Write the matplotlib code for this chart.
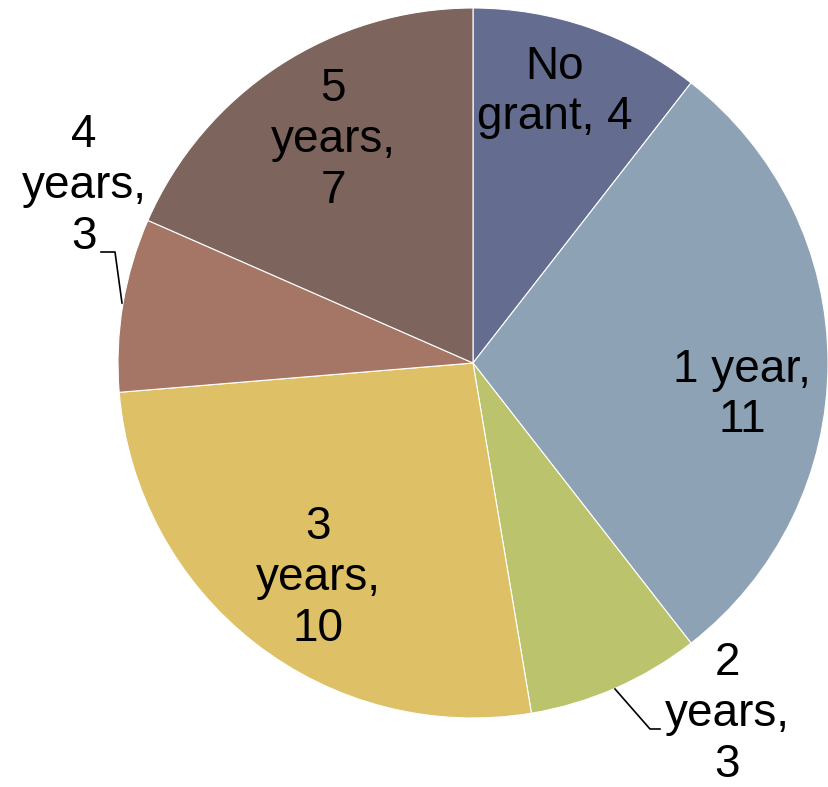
import matplotlib.pyplot as plt

# Data
labels = ['No\ngrant, 4', '1 year,\n11', '2\nyears,\n3', '3\nyears,\n10', '4\nyears,\n3', '5\nyears,\n7']
values = [4, 11, 3, 10, 3, 7]
colors = ['#646C8F', '#8DA3B5', '#BBC36C', '#DEC067', '#A57665', '#7D645C']

# Pie geometry in pixels (center, radius)
CX, CY, R = 473, 363, 355
W, H = 829, 787

def to_data(px, py):
    return (px - CX) / R, (CY - py) / R

# Label centres in pixels
label_pos = [(555, 92), (742, 395), (727, 714), (318, 578), (84, 186), (333, 140)]

fig = plt.figure(figsize=(W / 100, H / 100), dpi=100)
ax = fig.add_axes([(CX - R) / W, (H - CY - R) / H, 2 * R / W, 2 * R / H])

wedges, _ = ax.pie(values, colors=colors, startangle=90, counterclock=False,
                   radius=1, wedgeprops=dict(linewidth=0.8, edgecolor='white'))
ax.set_xlim(-1, 1)
ax.set_ylim(-1, 1)
ax.set_aspect('equal')
ax.axis('off')

for lab, (px, py) in zip(labels, label_pos):
    x, y = to_data(px, py)
    ax.text(x, y, lab, ha='center', va='center', fontsize=33,
            family='Liberation Sans', linespacing=1.2, clip_on=False)

# Leader lines
for pts in [[(615, 689), (650, 729), (660, 729)],
            [(101, 252), (115, 252), (122, 303)]]:
    xs, ys = zip(*[to_data(px, py) for px, py in pts])
    ax.plot(xs, ys, color='black', lw=1.2, clip_on=False)

fig.savefig('out.png', dpi=100)
